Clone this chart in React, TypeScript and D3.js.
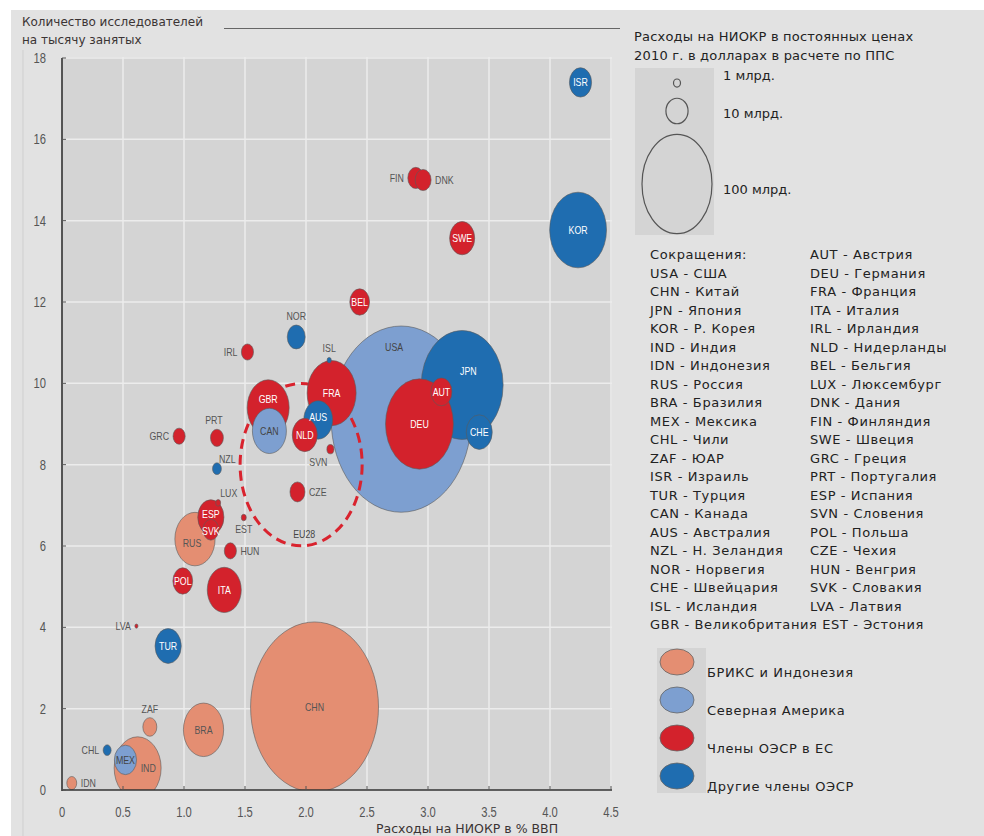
import { useRef, useEffect } from 'react';
import * as d3 from 'd3';

// Country data: R&D as % of GDP (x), researchers per 1000 employed (y), R&D spend in bn USD PPP (size)
const CODES = ['ISR', 'KOR', 'FIN', 'DNK', 'SWE', 'BEL', 'NOR', 'IRL', 'ISL', 'USA', 'JPN', 'DEU', 'AUT', 'CHE', 'FRA', 'GBR', 'CAN', 'AUS', 'NLD', 'SVN', 'CZE', 'EST', 'HUN', 'EU28', 'GRC', 'PRT', 'NZL', 'LUX', 'ESP', 'SVK', 'RUS', 'POL', 'ITA', 'LVA', 'TUR', 'ZAF', 'BRA', 'CHN', 'CHL', 'MEX', 'IND', 'IDN'];
const RD_GDP = [4.25, 4.23, 2.90, 2.96, 3.28, 2.44, 1.92, 1.52, 2.19, 2.78, 3.28, 2.93, 3.11, 3.42, 2.21, 1.69, 1.70, 2.10, 1.99, 2.20, 1.93, 1.49, 1.38, 1.96, 0.96, 1.27, 1.27, 1.28, 1.22, 1.22, 1.09, 0.99, 1.33, 0.61, 0.87, 0.72, 1.16, 2.07, 0.37, 0.52, 0.62, 0.08];
const RESEARCHERS = [17.4, 13.77, 15.05, 15.0, 13.57, 12.0, 11.14, 10.77, 10.57, 9.12, 9.96, 9.0, 9.79, 8.8, 9.76, 9.4, 8.83, 9.1, 8.73, 8.38, 7.33, 6.7, 5.88, 8.0, 8.7, 8.66, 7.9, 7.06, 6.71, 6.4, 6.17, 5.14, 4.92, 4.03, 3.54, 1.55, 1.48, 2.04, 0.98, 0.74, 0.54, 0.17];
const RD_BN = [10, 66, 5.2, 5.2, 12.8, 8, 6.6, 3, 0.35, 400, 137, 94, 9, 13.8, 49, 36, 23.6, 17, 12.8, 1.0, 4.6, 0.5, 3, 304, 3, 3.4, 1.6, 0.5, 14, 5, 33, 8, 23.6, 0.2, 14, 4, 33, 334, 1.3, 10, 45, 2];
const GROUPS = ['oecd', 'oecd', 'eu', 'eu', 'eu', 'eu', 'oecd', 'eu', 'oecd', 'na', 'oecd', 'eu', 'eu', 'oecd', 'eu', 'eu', 'na', 'oecd', 'eu', 'eu', 'eu', 'eu', 'eu', 'eu28', 'eu', 'eu', 'oecd', 'eu', 'eu', 'eu', 'brics', 'eu', 'eu', 'eu', 'oecd', 'brics', 'brics', 'brics', 'oecd', 'na', 'brics', 'brics'];

const X_TICKS = [0, 0.5, 1, 1.5, 2, 2.5, 3, 3.5, 4, 4.5];
const X_TICK_LABELS = ['0', '0.5', '1.0', '1.5', '2.0', '2.5', '3.0', '3.5', '4.0', '4.5'];
const Y_TICKS = [0, 2, 4, 6, 8, 10, 12, 14, 16, 18];

const SIZE_LEGEND = [1, 10, 100];
const SIZE_LEGEND_LABELS = ['1 млрд.', '10 млрд.', '100 млрд.'];

const GROUP_KEYS = ['brics', 'na', 'eu', 'oecd'];
const GROUP_LABELS = ['БРИКС и Индонезия', 'Северная Америка', 'Члены ОЭСР в ЕС', 'Другие члены ОЭСР'];

const ABBR_LEFT = ['Сокращения:', 'USA - США', 'CHN - Китай', 'JPN - Япония', 'KOR - Р. Корея', 'IND - Индия', 'IDN - Индонезия', 'RUS - Россия', 'BRA - Бразилия', 'MEX - Мексика', 'CHL - Чили', 'ZAF - ЮАР', 'ISR - Израиль', 'TUR - Турция', 'CAN - Канада', 'AUS - Австралия', 'NZL - Н. Зеландия', 'NOR - Норвегия', 'CHE - Швейцария', 'ISL - Исландия', 'GBR - Великобритания EST - Эстония'];
const ABBR_RIGHT = ['AUT - Австрия', 'DEU - Германия', 'FRA - Франция', 'ITA - Италия', 'IRL - Ирландия', 'NLD - Нидерланды', 'BEL - Бельгия', 'LUX - Люксембург', 'DNK - Дания', 'FIN - Финляндия', 'SWE - Швеция', 'GRC - Греция', 'PRT - Португалия', 'ESP - Испания', 'SVN - Словения', 'POL - Польша', 'CZE - Чехия', 'HUN - Венгрия', 'SVK - Словакия', 'LVA - Латвия'];

const FILL: Record<string, string> = {
  brics: '#e48e72',
  na: '#7d9fd0',
  eu: '#d3222c',
  oecd: '#1f6db0',
  eu28: 'none',
};
const INSIDE_TEXT: Record<string, string> = {
  brics: '#555', na: '#444', eu: '#fff', oecd: '#fff', eu28: '#444',
};

// label placement: kind, dx factor (of rx), dy factor (of ry)
const LABEL_POS: Record<string, [string, number, number]> = {
  FIN: ['l', 0, 0], DNK: ['r', 0, 0], NOR: ['t', 0, 0], IRL: ['l', 0, 0], ISL: ['t', 0, 0],
  USA: ['in', -0.1, -0.77], JPN: ['in', 0.15, -0.25], GBR: ['in', 0, -0.3], AUS: ['in', 0, -0.15],
  SVN: ['b', -1.2, 0], CZE: ['r', 0, 0], EST: ['b', 0, 0], HUN: ['r', 0, 0], EU28: ['in', 0.05, 0.86],
  GRC: ['l', 0, 0], PRT: ['t', -0.3, 0], NZL: ['ur', 0, 0], LUX: ['ur', 0, 0], LVA: ['l', 0, 0],
  ZAF: ['t', 0, 0], CHL: ['l', 0, 0], IDN: ['r', 0, 0], IND: ['in', 0.45, 0], RUS: ['in', -0.15, 0.15],
  ESP: ['in', 0, -0.2], SVK: ['in', 0, 0.1],
};

const ASPECT = 1.33;
const NARROW = "'Liberation Sans', Arial, sans-serif";
const SQUEEZE = 0.8;
const SANS = "'DejaVu Sans', Verdana, sans-serif";

export default function App() {
  const svgRef = useRef<SVGSVGElement>(null);

  useEffect(() => {
    if (!svgRef.current) return;
    const width = 984;
    const height = 836;
    const plot = { left: 62, right: 611, top: 58, bottom: 790 };

    const svg = d3.select(svgRef.current);
    svg.selectAll('*').remove();

    const x = d3.scaleLinear().domain([0, 4.5]).range([plot.left, plot.right]);
    const y = d3.scaleLinear().domain([0, 18]).range([plot.bottom, plot.top]);
    const r = d3.scaleSqrt().domain([0, 100]).range([0, 35]);

    const narrowText = (g: d3.Selection<SVGGElement, unknown, null, undefined>, tx: number, ty: number, txt: string, anchor: string, fill: string, size: number) =>
      g.append('text')
        .attr('transform', `translate(${tx},${ty}) scale(${SQUEEZE},1)`)
        .attr('text-anchor', anchor).attr('fill', fill)
        .attr('font-family', NARROW).attr('font-size', size)
        .text(txt);

    svg.append('defs').append('clipPath').attr('id', 'plot-clip')
      .append('rect').attr('x', plot.left).attr('y', 0)
      .attr('width', plot.right - plot.left + 2).attr('height', plot.bottom);

    // Backgrounds
    svg.append('rect').attr('width', width).attr('height', height).attr('fill', '#fff');
    svg.append('rect').attr('x', 11).attr('y', 10).attr('width', width - 11).attr('height', height - 10).attr('fill', '#e2e2e2');
    svg.append('line').attr('x1', 23).attr('x2', 23).attr('y1', 50).attr('y2', height).attr('stroke', '#cfcfcf');
    svg.append('rect')
      .attr('x', plot.left).attr('y', plot.top - 1)
      .attr('width', plot.right - plot.left + 1).attr('height', plot.bottom - plot.top + 1)
      .attr('fill', '#d4d4d4');

    // Axis title (top left)
    svg.append('text').attr('x', 22).attr('y', 26).attr('font-family', SANS).attr('font-size', 12)
      .attr('fill', '#3b3434').text('Количество исследователей');
    svg.append('text').attr('x', 22).attr('y', 44).attr('font-family', SANS).attr('font-size', 12)
      .attr('fill', '#3b3434').text('на тысячу занятых');
    svg.append('line').attr('x1', 224).attr('x2', 620).attr('y1', 28.5).attr('y2', 28.5)
      .attr('stroke', '#666').attr('stroke-width', 1);

    // Grid
    svg.append('g').selectAll('line').data(X_TICKS.slice(1)).join('line')
      .attr('x1', d => x(d)).attr('x2', d => x(d))
      .attr('y1', plot.top - 1).attr('y2', plot.bottom)
      .attr('stroke', '#ececec').attr('stroke-width', 1.5);
    svg.append('g').selectAll('line').data(Y_TICKS.slice(1)).join('line')
      .attr('x1', plot.left).attr('x2', plot.right + 1)
      .attr('y1', d => y(d)).attr('y2', d => y(d))
      .attr('stroke', '#ececec').attr('stroke-width', 1.5);

    // Bubbles, largest first
    const rows = CODES.map((code, i) => ({
      code, gx: RD_GDP[i], gy: RESEARCHERS[i], v: RD_BN[i], group: GROUPS[i],
    })).sort((a, b) => b.v - a.v);

    const bubbles = svg.append('g').attr('clip-path', 'url(#plot-clip)');
    rows.forEach(d => {
      const cx = x(d.gx);
      const cy = y(d.gy);
      const rx = r(d.v);
      const ry = rx * ASPECT;
      if (d.group === 'eu28') {
        bubbles.append('ellipse')
          .attr('cx', cx).attr('cy', cy).attr('rx', rx).attr('ry', ry)
          .attr('fill', 'none').attr('stroke', '#d9232e')
          .attr('stroke-width', 3).attr('stroke-dasharray', '10,6');
      } else {
        bubbles.append('ellipse')
          .attr('cx', cx).attr('cy', cy).attr('rx', rx).attr('ry', ry)
          .attr('fill', FILL[d.group]).attr('stroke', '#5a5a5a').attr('stroke-width', 0.6);
      }
    });

    // Labels
    const labels = svg.append('g');
    rows.forEach(d => {
      const cx = x(d.gx);
      const cy = y(d.gy);
      const rx = r(d.v);
      const ry = rx * ASPECT;
      const [kind, dxf, dyf] = LABEL_POS[d.code] ?? ['in', 0, 0];
      let lx = cx;
      let ly = cy + 4;
      let anchor = 'middle';
      let fill = '#555';
      if (kind === 'in') {
        lx = cx + dxf * rx;
        ly = cy + dyf * ry + 4;
        fill = INSIDE_TEXT[d.group];
      } else if (kind === 'l') {
        lx = cx - rx - 4; anchor = 'end';
      } else if (kind === 'r') {
        lx = cx + rx + 4; anchor = 'start';
      } else if (kind === 't') {
        lx = cx + dxf * 10; ly = cy - ry - 5;
      } else if (kind === 'b') {
        lx = cx + dxf * 10; ly = cy + ry + 12;
      } else if (kind === 'ur') {
        lx = cx + 2; ly = cy - 6; anchor = 'start';
      }
      narrowText(labels, lx, ly, d.code, anchor, fill, 11);
    });

    // Axes
    svg.append('line').attr('x1', plot.left).attr('x2', plot.left)
      .attr('y1', plot.top).attr('y2', plot.bottom + 1).attr('stroke', '#333').attr('stroke-width', 1.6);
    svg.append('line').attr('x1', plot.left).attr('x2', plot.right + 1)
      .attr('y1', plot.bottom).attr('y2', plot.bottom).attr('stroke', '#333').attr('stroke-width', 1.6);

    svg.append('g').selectAll('line').data(Y_TICKS).join('line')
      .attr('x1', plot.left).attr('x2', plot.left + 4)
      .attr('y1', d => y(d)).attr('y2', d => y(d)).attr('stroke', '#555');
    svg.append('g').selectAll('line').data(X_TICKS).join('line')
      .attr('x1', d => x(d)).attr('x2', d => x(d))
      .attr('y1', plot.bottom).attr('y2', plot.bottom - 4).attr('stroke', '#555');

    const ticks = svg.append('g');
    Y_TICKS.forEach(d => narrowText(ticks, 46, y(d) + 5, `${d}`, 'end', '#555', 14));
    X_TICKS.forEach((d, i) => narrowText(ticks, x(d), 817, X_TICK_LABELS[i], 'middle', '#555', 14));

    svg.append('text').attr('x', 467).attr('y', 833).attr('text-anchor', 'middle')
      .attr('font-family', SANS).attr('font-size', 12.5).attr('fill', '#3b3434')
      .text('Расходы на НИОКР в % ВВП');

    // Size legend
    const lg = svg.append('g').attr('font-family', SANS).attr('font-size', 13).attr('fill', '#222');
    lg.append('text').attr('x', 634).attr('y', 41).attr('letter-spacing', 0.2).text('Расходы на НИОКР в постоянных ценах');
    lg.append('text').attr('x', 634).attr('y', 60).attr('letter-spacing', 0.2).text('2010 г. в долларах в расчете по ППС');
    lg.append('rect').attr('x', 635).attr('y', 68).attr('width', 79).attr('height', 167).attr('fill', '#d4d4d4');
    const legendCy = [83, 111, 184];
    const legendLy = [80, 118, 194];
    SIZE_LEGEND.forEach((v, i) => {
      const rx = r(v);
      lg.append('ellipse').attr('cx', 677).attr('cy', legendCy[i])
        .attr('rx', rx).attr('ry', rx * (i === 2 ? 1.42 : 1.15))
        .attr('fill', 'none').attr('stroke', '#555').attr('stroke-width', 1.2);
      lg.append('text').attr('x', 723).attr('y', legendLy[i]).text(SIZE_LEGEND_LABELS[i]);
    });

    // Abbreviations
    const ab = svg.append('g').attr('font-family', SANS).attr('font-size', 13).attr('fill', '#222')
      .attr('letter-spacing', 0.6);
    ABBR_LEFT.forEach((t, i) => {
      ab.append('text').attr('x', 650).attr('y', 259 + i * 18.5).text(t);
    });
    ABBR_RIGHT.forEach((t, i) => {
      ab.append('text').attr('x', 810).attr('y', 259 + i * 18.5).text(t);
    });

    // Group legend
    const gl = svg.append('g').attr('font-family', SANS).attr('font-size', 13).attr('fill', '#222')
      .attr('letter-spacing', 0.6);
    gl.append('rect').attr('x', 657).attr('y', 648).attr('width', 49).attr('height', 145).attr('fill', '#d4d4d4');
    GROUP_KEYS.forEach((k, i) => {
      const cy = 662 + i * 38;
      gl.append('ellipse').attr('cx', 677).attr('cy', cy).attr('rx', 17).attr('ry', 13)
        .attr('fill', FILL[k]).attr('stroke', '#666').attr('stroke-width', 0.8);
      gl.append('text').attr('x', 707).attr('y', cy + 15).text(GROUP_LABELS[i]);
    });
  }, []);

  return (
    <svg
      ref={svgRef}
      width={984}
      height={836}
      style={{ position: 'absolute', left: 0, top: 0, display: 'block' }}
    />
  );
}
